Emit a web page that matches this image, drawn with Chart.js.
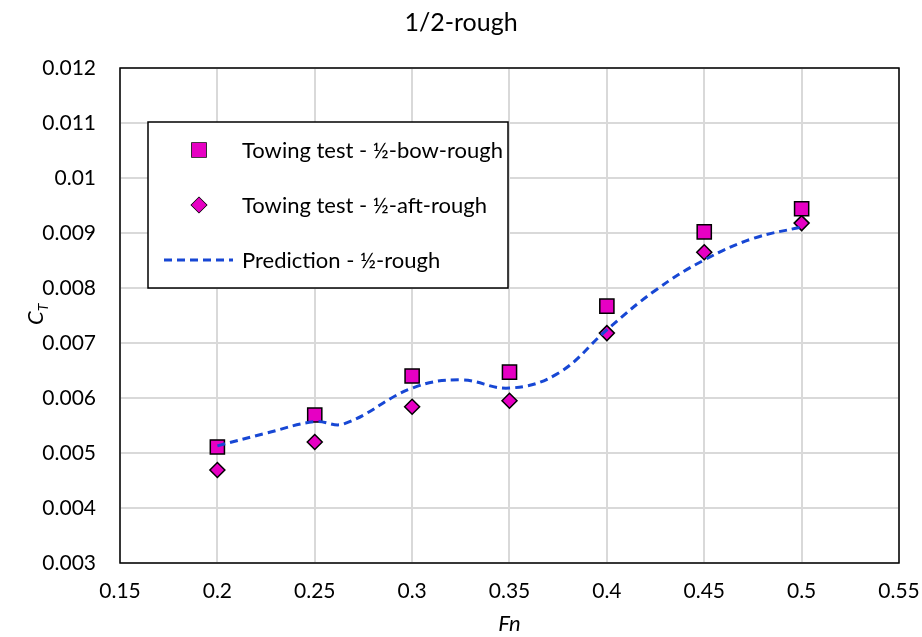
<!DOCTYPE html>
<html>
<head>
<meta charset="utf-8">
<script src="https://cdn.jsdelivr.net/npm/chart.js@4/dist/chart.umd.min.js"></script>
<style>
  body { margin: 0; background: #fff; }
  #wrap { width: 922px; height: 637px; }
</style>
</head>
<body>
<div id="wrap"><canvas id="chart" width="922" height="637"></canvas></div>
<script>
// data
const fn = [0.2, 0.25, 0.3, 0.35, 0.4, 0.45, 0.5];
const bowRough = [0.00511, 0.00569, 0.0064, 0.00647, 0.00767, 0.00902, 0.00944];
const aftRough = [0.00469, 0.0052, 0.00584, 0.00595, 0.00718, 0.00865, 0.00918];
const predFn = [0.2, 0.225, 0.25, 0.265, 0.3, 0.325, 0.35, 0.375, 0.4, 0.425, 0.45, 0.475, 0.5];
const predCt = [0.00513, 0.00536, 0.00557, 0.00553, 0.00618, 0.00633, 0.00618, 0.00645, 0.00724, 0.00796, 0.00851, 0.0089, 0.00911];
const xTicks = [0.15, 0.2, 0.25, 0.3, 0.35, 0.4, 0.45, 0.5, 0.55];
const yTicks = [0.003, 0.004, 0.005, 0.006, 0.007, 0.008, 0.009, 0.01, 0.011, 0.012];

const FONT = 'Lato, "Open Sans", sans-serif';
const MAGENTA = '#E600C3';
const BLUE = '#1747D4';

const toXY = (xs, ys) => xs.map((x, i) => ({ x: x, y: ys[i] }));

// legend drawn inside the plot, like the original
const boxLegend = {
  id: 'boxLegend',
  afterDraw(chart) {
    const ctx = chart.ctx;
    const x0 = 148, y0 = 122, w = 360, h = 166;
    ctx.save();
    ctx.fillStyle = '#fff';
    ctx.fillRect(x0, y0, w, h);
    ctx.strokeStyle = '#000';
    ctx.lineWidth = 1.5;
    ctx.strokeRect(x0, y0, w, h);
    ctx.font = '22px ' + FONT;
    ctx.fillStyle = '#000';
    ctx.textBaseline = 'middle';
    const ds = chart.data.datasets;
    const rows = [150, 205, 260];
    ds.forEach((d, i) => {
      const y = rows[i];
      if (d.showLine) {
        ctx.save();
        ctx.strokeStyle = d.borderColor;
        ctx.lineWidth = d.borderWidth;
        ctx.setLineDash(d.borderDash);
        ctx.beginPath();
        ctx.moveTo(164, y);
        ctx.lineTo(233, y);
        ctx.stroke();
        ctx.restore();
      } else {
        ctx.save();
        ctx.fillStyle = d.backgroundColor;
        ctx.strokeStyle = '#000';
        ctx.lineWidth = d.borderWidth;
        Chart.helpers.drawPoint(ctx, { pointStyle: d.pointStyle, radius: d.pointRadius, borderWidth: d.borderWidth }, 199, y);
        ctx.fill();
        ctx.restore();
      }
      ctx.fillText(d.label, 242, y + 1);
    });
    ctx.restore();
  }
};

// y axis title with subscript
const yTitle = {
  id: 'yTitle',
  afterDraw(chart) {
    const ctx = chart.ctx;
    ctx.save();
    ctx.translate(35, 316);
    ctx.rotate(-Math.PI / 2);
    ctx.fillStyle = '#000';
    ctx.textBaseline = 'alphabetic';
    ctx.font = 'italic 22px ' + FONT;
    ctx.fillText('C', -9, 8);
    const cw = ctx.measureText('C').width;
    ctx.font = 'italic 14px ' + FONT;
    ctx.fillText('T', -9 + cw, 13);
    ctx.restore();
  }
};

// plot frame
const frame = {
  id: 'frame',
  afterDatasetsDraw(chart) {
    const a = chart.chartArea;
    const ctx = chart.ctx;
    ctx.save();
    ctx.strokeStyle = '#000';
    ctx.lineWidth = 1.5;
    ctx.strokeRect(a.left, a.top, a.right - a.left, a.bottom - a.top);
    ctx.restore();
  }
};

new Chart(document.getElementById('chart'), {
  type: 'scatter',
  data: {
    datasets: [
      {
        label: 'Towing test - ½-bow-rough',
        data: toXY(fn, bowRough),
        pointStyle: 'rect',
        pointRadius: 10,
        pointHoverRadius: 10,
        backgroundColor: MAGENTA,
        borderColor: '#000',
        borderWidth: 1.5,
        showLine: false,
        order: 1
      },
      {
        label: 'Towing test - ½-aft-rough',
        data: toXY(fn, aftRough),
        pointStyle: 'rectRot',
        pointRadius: 7.5,
        pointHoverRadius: 7.5,
        backgroundColor: MAGENTA,
        borderColor: '#000',
        borderWidth: 1.5,
        showLine: false,
        order: 2
      },
      {
        label: 'Prediction - ½-rough',
        data: toXY(predFn, predCt),
        showLine: true,
        borderColor: BLUE,
        borderWidth: 3,
        borderDash: [8, 5],
        pointRadius: 0,
        tension: 0.4,
        fill: false,
        order: 0
      }
    ]
  },
  options: {
    responsive: false,
    animation: false,
    layout: { padding: { top: 0, right: 0, bottom: 0, left: 0 } },
    plugins: {
      legend: { display: false },
      tooltip: { enabled: false },
      title: {
        display: true,
        text: '1/2-rough',
        color: '#000',
        font: { family: FONT, size: 25, weight: 'normal', lineHeight: 1.2 },
        padding: { top: 8, bottom: 30 }
      }
    },
    scales: {
      x: {
        type: 'linear',
        min: 0.15,
        max: 0.55,
        afterBuildTicks: s => { s.ticks = xTicks.map(v => ({ value: v })); },
        afterFit: s => { s.height = 74; s.paddingRight = 23; s.paddingLeft = 0; },
        grid: { color: '#d9d9d9', lineWidth: 2, drawTicks: false },
        border: { display: false },
        ticks: {
          color: '#000',
          padding: 16,
          maxRotation: 0,
          font: { family: FONT, size: 21 },
          callback: v => String(+v.toFixed(3))
        },
        title: {
          display: true,
          text: 'Fn',
          color: '#000',
          padding: { top: 0, bottom: 0 },
          font: { family: FONT, size: 22, style: 'italic' }
        }
      },
      y: {
        type: 'linear',
        min: 0.003,
        max: 0.012,
        afterBuildTicks: s => { s.ticks = yTicks.map(v => ({ value: v })); },
        afterFit: s => { s.width = 120; },
        grid: { color: '#d9d9d9', lineWidth: 2, drawTicks: false },
        border: { display: false },
        ticks: {
          color: '#000',
          padding: 24,
          font: { family: FONT, size: 21 },
          callback: v => String(+v.toFixed(3))
        }
      }
    }
  },
  plugins: [frame, boxLegend, yTitle]
});
</script>
</body>
</html>
